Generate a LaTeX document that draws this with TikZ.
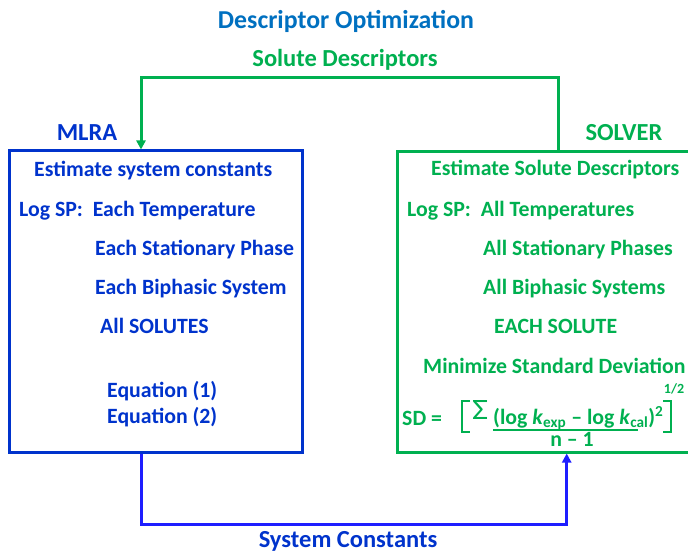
\documentclass[tikz,border=0pt]{standalone}
\usepackage{fontspec}
\usepackage{graphicx}
\setmainfont{Carlito}
\usetikzlibrary{arrows.meta}
\definecolor{mblue}{RGB}{0,51,204}
\definecolor{tblue}{RGB}{0,112,192}
\definecolor{mgreen}{RGB}{0,176,80}
\definecolor{cblue}{RGB}{30,30,255}
\begin{document}
\begin{tikzpicture}[x=1pt,y=-1pt,
  font=\bfseries\fontsize{21.8}{24}\selectfont,
  head/.style={font=\bfseries\fontsize{24.5}{28}\selectfont},
  box/.style={draw,line width=3pt,inner sep=0pt},
  txt/.style={anchor=base west,inner sep=0pt},
  ctxt/.style={anchor=base,inner sep=0pt},
  link/.style={line width=3pt,-{Triangle[length=9pt,width=9pt]}}]
\useasboundingbox (0,0) rectangle (688,553);

% titles
\node[ctxt,tblue,font=\bfseries\fontsize{25.8}{30}\selectfont] (title) at (346,29) {Descriptor Optimization};
\node[ctxt,mgreen,head] (soldesc) at (345,67) {Solute Descriptors};
\node[ctxt,mblue,head] (mlralbl) at (87,141) {MLRA};
\node[ctxt,mgreen,head] (solverlbl) at (624,141) {SOLVER};
\node[ctxt,mblue,head] (syscon) at (348,547) {System Constants};

% boxes
\node[box,mblue,minimum width=293pt,minimum height=301pt] (mlra) at (155.5,301.5) {};
\node[box,mgreen,minimum width=300pt,minimum height=300pt] (solver) at (547,302) {};

% MLRA box content
\begin{scope}[mblue]
\node[txt] (m1) at (34,177) {Estimate system constants};
\node[txt] (m2) at (19,217) {Log SP:\ \ Each Temperature};
\node[txt] (m3) at (95,256) {Each Stationary Phase};
\node[txt] (m4) at (95,295) {Each Biphasic System};
\node[txt] (m5) at (100,334) {All SOLUTES};
\node[txt] (m6) at (107,397) {Equation (1)};
\node[txt] (m7) at (107,423) {Equation (2)};
\end{scope}

% SOLVER box content
\begin{scope}[mgreen]
\node[txt] (s1) at (431,176) {Estimate Solute Descriptors};
\node[txt] (s2) at (407,217) {Log SP:\ \ All Temperatures};
\node[txt] (s3) at (483,256) {All Stationary Phases};
\node[txt] (s4) at (483,295) {All Biphasic Systems};
\node[txt] (s5) at (494,334) {EACH SOLUTE};
\node[txt] (s6) at (423,373) {Minimize Standard Deviation};
% standard deviation formula
\node[txt] (sd) at (402,425) {SD =};
\draw[line width=2.5pt] (470,401) -- (462,401) -- (462,432) -- (470,432);
\node[txt,font=\mdseries\fontsize{22}{24}\selectfont] (sigma) at (472,419) {\resizebox{16pt}{19pt}{Σ}};
\node[txt] (num) at (493,424) {(log \textit{k}\textsubscript{exp} -- log \textit{k}\textsubscript{cal})\textsuperscript{2}};
\draw[line width=2pt] (493,430) -- (638,430);
\node[ctxt] (den) at (572,446) {n -- 1};
\draw[line width=2.5pt] (663,401) -- (671,401) -- (671,432) -- (663,432);
\node[ctxt,font=\bfseries\fontsize{14}{16}\selectfont] (half) at (674,393) {1/2};
\end{scope}

% connectors
\draw[link,mgreen] (558,0 |- solver.north) -- (558,78) -| (141,0 |- mlra.north);
\draw[link,cblue] (141.7,0 |- mlra.south) -- (141.7,524) -| (566.7,0 |- solver.south);
\end{tikzpicture}
\end{document}
